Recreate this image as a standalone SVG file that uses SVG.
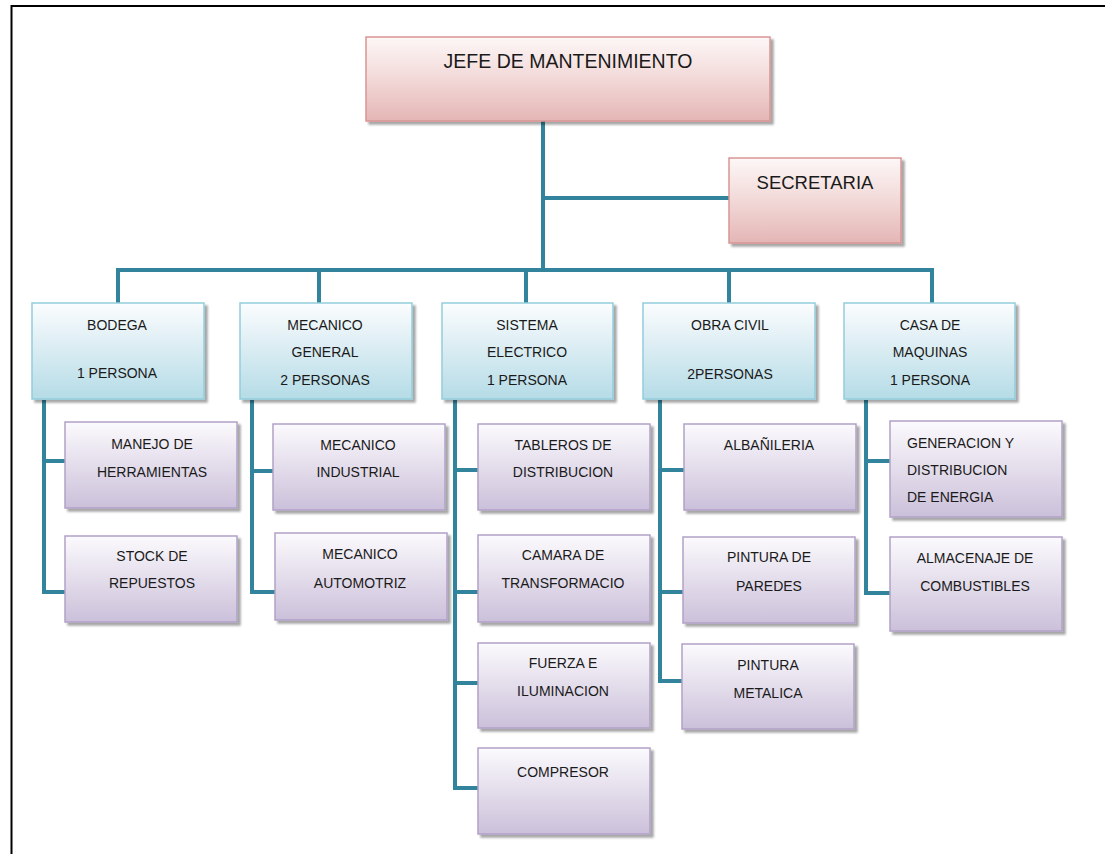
<svg xmlns="http://www.w3.org/2000/svg" width="1105" height="854" viewBox="0 0 1105 854">
  <style>
    .t { font-family: "Liberation Sans", Arial, sans-serif; font-size: 14px; fill: #1a1a1a; text-anchor: middle; }
    .tl { text-anchor: start; }
    .big { font-size: 18.5px; }
    .pink { fill: url(#gPink); stroke: #d99594; stroke-width: 1.5; filter: url(#sh); }
    .blue { fill: url(#gBlue); stroke: #92cddc; stroke-width: 1.5; filter: url(#sh); }
    .purple { fill: url(#gPurple); stroke: #b2a1c7; stroke-width: 1.5; filter: url(#sh); }
    .conn { fill: none; stroke: #31849b; stroke-width: 4; stroke-linejoin: miter; }
  </style>
  <defs>
    <linearGradient id="gPink" x1="0" y1="0" x2="0" y2="1">
      <stop offset="0" stop-color="#fdf7f7"/>
      <stop offset="0.45" stop-color="#f3dcdb"/>
      <stop offset="1" stop-color="#e4b6b5"/>
    </linearGradient>
    <linearGradient id="gBlue" x1="0" y1="0" x2="0" y2="1">
      <stop offset="0" stop-color="#fbfdfe"/>
      <stop offset="0.45" stop-color="#dcedf3"/>
      <stop offset="1" stop-color="#b5dce7"/>
    </linearGradient>
    <linearGradient id="gPurple" x1="0" y1="0" x2="0" y2="1">
      <stop offset="0" stop-color="#fbfafd"/>
      <stop offset="0.45" stop-color="#e6e0ed"/>
      <stop offset="1" stop-color="#cbc0da"/>
    </linearGradient>
    <filter id="sh" x="-5%" y="-5%" width="115%" height="120%">
      <feDropShadow dx="3" dy="3" stdDeviation="1" flood-color="#000" flood-opacity="0.35"/>
    </filter>
  </defs>

  <rect width="1105" height="854" fill="#fff"/>
  <!-- page frame -->
  <path d="M11.5,854 V6 H1105" fill="none" stroke="#000" stroke-width="2"/>

  <!-- connectors -->
  <g id="connectors" class="conn">
    <path d="M543,121 V270"/>
    <path d="M543,198 H729"/>
    <path d="M118,303 V270 H932 V303"/>
    <path d="M319,270 V303"/>
    <path d="M526,270 V303"/>
    <path d="M729,270 V303"/>
    <!-- BODEGA -->
    <path d="M44,400 V592 H65"/>
    <path d="M44,461 H65"/>
    <!-- MECANICO GENERAL -->
    <path d="M252,400 V592 H275"/>
    <path d="M252,471 H273"/>
    <!-- SISTEMA ELECTRICO -->
    <path d="M455,400 V788 H478"/>
    <path d="M455,470 H478"/>
    <path d="M455,592 H478"/>
    <path d="M455,683 H478"/>
    <!-- OBRA CIVIL -->
    <path d="M660,400 V681 H682"/>
    <path d="M660,470 H684"/>
    <path d="M660,592 H683"/>
    <!-- CASA DE MAQUINAS -->
    <path d="M866,400 V593 H890"/>
    <path d="M866,461 H890"/>
  </g>

  <!-- top level -->
  <g id="jefe">
    <rect class="pink" x="366" y="37" width="404" height="84"/>
    <text class="t big" x="568" y="68" style="font-size:19.5px">JEFE DE MANTENIMIENTO</text>
  </g>
  <g id="secretaria">
    <rect class="pink" x="729" y="158" width="172" height="85"/>
    <text class="t big" x="815" y="189">SECRETARIA</text>
  </g>

  <!-- departments -->
  <g id="bodega">
    <rect class="blue" x="32" y="303" width="172" height="96"/>
    <text class="t" x="117" y="330">BODEGA</text>
    <text class="t" x="117" y="378">1 PERSONA</text>
  </g>
  <g id="mecanico-general">
    <rect class="blue" x="240" y="303" width="172" height="96"/>
    <text class="t" x="325" y="330">MECANICO</text>
    <text class="t" x="325" y="357">GENERAL</text>
    <text class="t" x="325" y="385">2 PERSONAS</text>
  </g>
  <g id="sistema-electrico">
    <rect class="blue" x="442" y="303" width="171" height="96"/>
    <text class="t" x="527" y="330">SISTEMA</text>
    <text class="t" x="527" y="357">ELECTRICO</text>
    <text class="t" x="527" y="385">1 PERSONA</text>
  </g>
  <g id="obra-civil">
    <rect class="blue" x="643" y="303" width="172" height="96"/>
    <text class="t" x="730" y="330">OBRA CIVIL</text>
    <text class="t" x="730" y="379">2PERSONAS</text>
  </g>
  <g id="casa-de-maquinas">
    <rect class="blue" x="844" y="303" width="171" height="96"/>
    <text class="t" x="930" y="330">CASA DE</text>
    <text class="t" x="930" y="357">MAQUINAS</text>
    <text class="t" x="930" y="385">1 PERSONA</text>
  </g>

  <!-- BODEGA tasks -->
  <g id="manejo-herramientas">
    <rect class="purple" x="65" y="422" width="172" height="86"/>
    <text class="t" x="152" y="449">MANEJO DE</text>
    <text class="t" x="152" y="477">HERRAMIENTAS</text>
  </g>
  <g id="stock-repuestos">
    <rect class="purple" x="65" y="536" width="172" height="86"/>
    <text class="t" x="152" y="561">STOCK DE</text>
    <text class="t" x="152" y="588">REPUESTOS</text>
  </g>

  <!-- MECANICO GENERAL tasks -->
  <g id="mecanico-industrial">
    <rect class="purple" x="273" y="424" width="172" height="86"/>
    <text class="t" x="358" y="450">MECANICO</text>
    <text class="t" x="358" y="477">INDUSTRIAL</text>
  </g>
  <g id="mecanico-automotriz">
    <rect class="purple" x="275" y="533" width="172" height="87"/>
    <text class="t" x="360" y="559">MECANICO</text>
    <text class="t" x="360" y="588">AUTOMOTRIZ</text>
  </g>

  <!-- SISTEMA ELECTRICO tasks -->
  <g id="tableros-distribucion">
    <rect class="purple" x="478" y="424" width="172" height="86"/>
    <text class="t" x="563" y="450">TABLEROS DE</text>
    <text class="t" x="563" y="477">DISTRIBUCION</text>
  </g>
  <g id="camara-transformacion">
    <rect class="purple" x="478" y="535" width="172" height="87"/>
    <text class="t" x="563" y="560">CAMARA DE</text>
    <text class="t" x="563" y="588">TRANSFORMACIO</text>
  </g>
  <g id="fuerza-iluminacion">
    <rect class="purple" x="478" y="643" width="172" height="85"/>
    <text class="t" x="563" y="668">FUERZA E</text>
    <text class="t" x="563" y="696">ILUMINACION</text>
  </g>
  <g id="compresor">
    <rect class="purple" x="478" y="748" width="172" height="86"/>
    <text class="t" x="563" y="777">COMPRESOR</text>
  </g>

  <!-- OBRA CIVIL tasks -->
  <g id="albanileria">
    <rect class="purple" x="684" y="424" width="172" height="86"/>
    <text class="t" x="769" y="450">ALBAÑILERIA</text>
  </g>
  <g id="pintura-paredes">
    <rect class="purple" x="683" y="537" width="172" height="86"/>
    <text class="t" x="769" y="562">PINTURA DE</text>
    <text class="t" x="769" y="591">PAREDES</text>
  </g>
  <g id="pintura-metalica">
    <rect class="purple" x="682" y="644" width="172" height="85"/>
    <text class="t" x="768" y="670">PINTURA</text>
    <text class="t" x="768" y="698">METALICA</text>
  </g>

  <!-- CASA DE MAQUINAS tasks -->
  <g id="generacion-distribucion">
    <rect class="purple" x="890" y="421" width="172" height="96"/>
    <text class="t tl" x="907" y="448">GENERACION Y</text>
    <text class="t tl" x="907" y="475">DISTRIBUCION</text>
    <text class="t tl" x="907" y="502">DE ENERGIA</text>
  </g>
  <g id="almacenaje-combustibles">
    <rect class="purple" x="890" y="537" width="172" height="94"/>
    <text class="t" x="975" y="563">ALMACENAJE DE</text>
    <text class="t" x="975" y="591">COMBUSTIBLES</text>
  </g>
</svg>
